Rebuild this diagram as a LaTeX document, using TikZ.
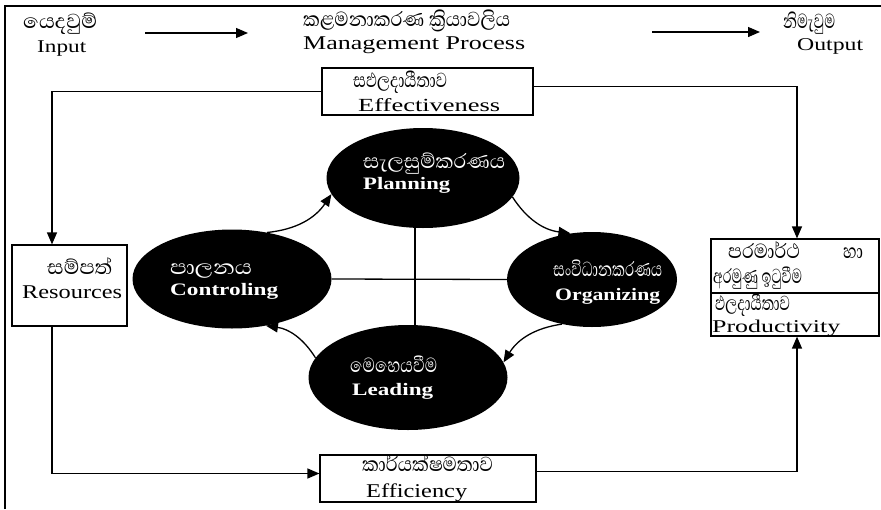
\documentclass[tikz,border=0pt]{standalone}
\usepackage{fontspec}
\setmainfont{Liberation Serif}
\newfontfamily\sinhfont[Script=Sinhala]{Abhaya Libre}
\usetikzlibrary{arrows.meta,shapes.geometric}
\newcommand\tw[3]{\resizebox{#1pt}{\height}{\fontsize{#2pt}{#2pt}\selectfont #3}}
\newcommand\sw[2]{\resizebox{#1pt}{\height}{\fontsize{26pt}{26pt}\sinhfont #2}}
\begin{document}
\begin{tikzpicture}[x=1pt,y=-1pt,
  ln/.style={line width=1.3pt},
  tip/.style={-{Triangle[length=12pt,width=10pt]}},
  box/.style={draw,line width=1.2pt,fill=white,inner sep=0pt},
  ell/.style={ellipse,fill=black,inner sep=0pt,draw=none},
  lb/.style={anchor=base west,inner sep=0pt},
  wl/.style={lb,text=white}]
\useasboundingbox (0,0) rectangle (881,509);
\fill[white] (0,0) rectangle (881,509);
\draw[line width=1.6pt] (5,509) -- (5,6) -- (881,6);

% boxes
\node[box,minimum width=211pt,minimum height=47pt] (eff) at (427.5,91.5) {};
\node[box,minimum width=115pt,minimum height=81pt] (res) at (69.5,285.5) {};
\node[box,minimum width=168pt,minimum height=97pt] (prod) at (795,287.5) {};
\node[box,minimum width=216pt,minimum height=47pt] (effc) at (428,478.5) {};
\draw[line width=1.2pt] (prod.west |- 0,293) -- (prod.east |- 0,293);

% ellipses
\node[ell,minimum width=193pt,minimum height=100pt] (plan) at (423,178) {};
\node[ell,minimum width=170pt,minimum height=95pt] (org) at (592,279.5) {};
\node[ell,minimum width=199pt,minimum height=99pt] (ctrl) at (232,279) {};
\node[ell,minimum width=199pt,minimum height=105pt] (lead) at (408,377.5) {};

% cross
\draw[ln] (plan.south -| 415,0) -- (lead.north -| 415,0);
\draw[ln] (ctrl.east) -- (org.west);

% cycle arcs
\draw[ln,tip] (ctrl.53) to[bend right=25] (plan.190);
\draw[ln,tip] (plan.-12) to[bend right=25] (org.115);
\draw[ln,tip] (org.236) to[bend right=25] (lead.9);
\draw[ln,tip] (lead.168) to[bend right=25] (ctrl.-54);

% connectors
\draw[ln,tip] (eff.west) -| ([xshift=-17.5pt]res.north);
\draw[ln,tip] ([yshift=5pt]eff.east) -| ([xshift=2pt]prod.north);
\draw[ln,tip] ([xshift=-17.5pt]res.south) |- ([yshift=5pt]effc.west);
\draw[ln,tip] ([yshift=7pt]effc.east) -| ([xshift=2pt]prod.south);

% top arrows
\coordinate (a1) at (145,33); \coordinate (a2) at (248,33);
\coordinate (b1) at (652,32); \coordinate (b2) at (760,32);
\draw[ln,tip] (a1) -- (a2);
\draw[ln,tip] (b1) -- (b2);

% top texts
\node[lb] (tin1) at (23,28) {\sw{74}{යෙදවුම්}};
\node[lb] (tin2) at (37,52) {\tw{49}{18}{Input}};
\node[lb] (tmp1) at (303,26) {\sw{207}{කළමනාකරණ ක්‍රියාවලිය}};
\node[lb] (tmp2) at (303,49) {\tw{222}{19.5}{Management Process}};
\node[lb] (tout1) at (783,28) {\sw{52}{නිමැවුම}};
\node[lb] (tout2) at (797,50) {\tw{66}{18}{Output}};

% box texts
\node[lb] (te1) at (353,87) {\sw{94}{සඵලදායීතාව}};
\node[lb] (te2) at (358,111) {\tw{142}{18.5}{Effectiveness}};
\node[lb] (tr1) at (47,274) {\sw{65}{සම්පත්}};
\node[lb] (tr2) at (22,298) {\tw{100}{19.5}{Resources}};
\node[lb] (tp1) at (728,258) {\sw{72}{පරමාර්ථ}};
\node[lb] (tp2) at (843,258) {\sw{20}{හා}};
\node[lb] (tp3) at (713,283) {\sw{89}{අරමුණු ඉටුවීම}};
\node[lb] (tp4) at (715,310) {\sw{75}{ඵලදායීතාව}};
\node[lb] (tp5) at (712,332) {\tw{128}{18}{Productivity}};
\node[lb] (tf1) at (362,471) {\sw{131}{කාර්යක්ෂමතාව}};
\node[lb] (tf2) at (366,497) {\tw{101}{19.5}{Efficiency}};

% ellipse texts
\node[wl] (tpl1) at (363,168) {\sw{142}{සැලසුම්කරණය}};
\node[wl] (tpl2) at (363,189) {\tw{87}{17.5}{\bfseries Planning}};
\node[wl] (tc1) at (170,274) {\sw{82}{පාලනය}};
\node[wl] (tc2) at (170,295) {\tw{108}{17.5}{\bfseries Controling}};
\node[wl] (to1) at (553,276) {\sw{109}{සංවිධානකරණය}};
\node[wl] (to2) at (555,300) {\tw{105}{17.5}{\bfseries Organizing}};
\node[wl] (tl1) at (350,372) {\sw{87}{මෙහෙයවීම}};
\node[wl] (tl2) at (352,395) {\tw{81}{17.5}{\bfseries Leading}};
\end{tikzpicture}
\end{document}
